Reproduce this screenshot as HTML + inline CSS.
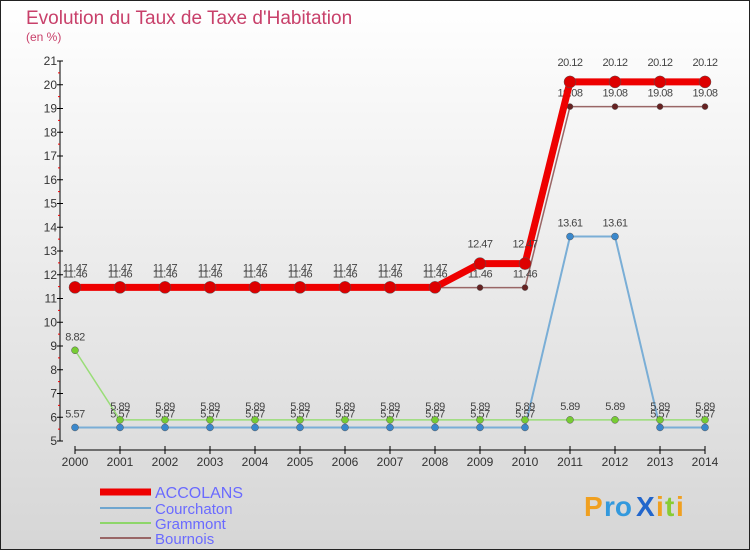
<!DOCTYPE html>
<html><head><meta charset="utf-8"><style>
body{margin:0;width:750px;height:550px;overflow:hidden;font-family:"Liberation Sans",sans-serif}
svg{display:block}
</style></head><body>
<svg id="c" width="750" height="550" xmlns="http://www.w3.org/2000/svg">
<defs><linearGradient id="bg" x1="0" y1="0" x2="0" y2="1"><stop offset="0" stop-color="#ffffff"/><stop offset="1" stop-color="#d6d6d6"/></linearGradient></defs>
<rect x="0.5" y="0.5" width="749" height="549" fill="url(#bg)" stroke="#222"/>
<text x="26" y="24" font-size="19" fill="#c8406a">Evolution du Taux de Taxe d'Habitation</text>
<text x="26" y="41" font-size="12" fill="#c8406a">(en %)</text>
<g id="axes"></g><g id="series"></g>
<g>
<line x1="100" y1="492" x2="151" y2="492" stroke="#ee0000" stroke-width="7"/>
<text x="155" y="498" font-size="16" fill="#6a6aff">ACCOLANS</text>
<line x1="100" y1="508" x2="151" y2="508" stroke="#6fa6cf" stroke-width="2"/>
<text x="155" y="514" font-size="15" fill="#6a6aff">Courchaton</text>
<line x1="100" y1="523" x2="151" y2="523" stroke="#8ed66a" stroke-width="2"/>
<text x="155" y="529" font-size="15" fill="#6a6aff">Grammont</text>
<line x1="100" y1="538" x2="151" y2="538" stroke="#996666" stroke-width="2"/>
<text x="155" y="544" font-size="15" fill="#6a6aff">Bournois</text>
</g>
<g font-size="28" font-weight="bold">
<text x="584" y="516" fill="#f0a020">P</text><text x="604" y="516" fill="#3399dd">ro</text><text x="636" y="516" fill="#2266cc">X</text><text x="656" y="516" fill="#f0a020">i</text><text x="665" y="516" fill="#88cc33">t</text><text x="676" y="516" fill="#f0a020">i</text>
</g>
</svg>
<script>
const years=[2000,2001,2002,2003,2004,2005,2006,2007,2008,2009,2010,2011,2012,2013,2014];
const accolans=[11.47,11.47,11.47,11.47,11.47,11.47,11.47,11.47,11.47,12.47,12.47,20.12,20.12,20.12,20.12];
const courchaton=[5.57,5.57,5.57,5.57,5.57,5.57,5.57,5.57,5.57,5.57,5.57,13.61,13.61,5.57,5.57];
const grammont=[8.82,5.89,5.89,5.89,5.89,5.89,5.89,5.89,5.89,5.89,5.89,5.89,5.89,5.89,5.89];
const bournois=[11.46,11.46,11.46,11.46,11.46,11.46,11.46,11.46,11.46,11.46,11.46,19.08,19.08,19.08,19.08];
const yTicks=[5,6,7,8,9,10,11,12,13,14,15,16,17,18,19,20,21];
const NS="http://www.w3.org/2000/svg";
const X=y=>75+(y-2000)*45, Y=v=>441-(v-5)*23.75;
function mk(p,t,a){const e=document.createElementNS(NS,t);for(const k in a)e.setAttribute(k,a[k]);p.appendChild(e);return e;}
const ax=document.getElementById('axes');
mk(ax,'line',{x1:60,y1:Y(21),x2:60,y2:Y(5),stroke:'#000'});
mk(ax,'line',{x1:75,y1:450,x2:705,y2:450,stroke:'#000'});
yTicks.forEach(v=>{
 mk(ax,'line',{x1:57,y1:Y(v),x2:63,y2:Y(v),stroke:'#000'});
 if(v<21)mk(ax,'line',{x1:58,y1:Y(v+0.5),x2:60,y2:Y(v+0.5),stroke:'#e00'});
 const t=mk(ax,'text',{x:57,y:Y(v)+4,'font-size':12,fill:'#333','text-anchor':'end'});t.textContent=v;
 
 
});
years.forEach(y=>{
 mk(ax,'line',{x1:X(y),y1:446,x2:X(y),y2:454,stroke:'#000'});
 const t=mk(ax,'text',{x:X(y),y:466,'font-size':12,fill:'#333','text-anchor':'middle'});t.textContent=y;
 
 
});
const sg=document.getElementById('series');
function series(name,data,color,w,r,dot,dy){
 const g=mk(sg,'g',{});
 
 
 mk(g,'polyline',{points:data.map((v,i)=>X(years[i])+','+Y(v)).join(' '),fill:'none',stroke:color,'stroke-width':w,'stroke-linejoin':'round'});
 data.forEach((v,i)=>{
  const c=mk(g,'circle',{cx:X(years[i]),cy:Y(v),r:r,fill:dot,stroke:'#555','stroke-width':0.5});
  
  
  const t=mk(g,'text',{x:X(years[i]),y:Y(v)+dy,'font-size':11,fill:'#444','text-anchor':'middle','letter-spacing':'-0.5'});t.textContent=v.toFixed(2);
  
  
 });
}
series('bournois',bournois,'#996666',1.5,3,'#662222',-10);
series('courchaton',courchaton,'#7aaed6',2,3.5,'#3a88cc',-10);
series('grammont',grammont,'#99dd77',1.5,3.5,'#77cc33',-10);
series('accolans',accolans,'#ee0000',7,6,'#dd0000',-16);
</script>
</body></html>
